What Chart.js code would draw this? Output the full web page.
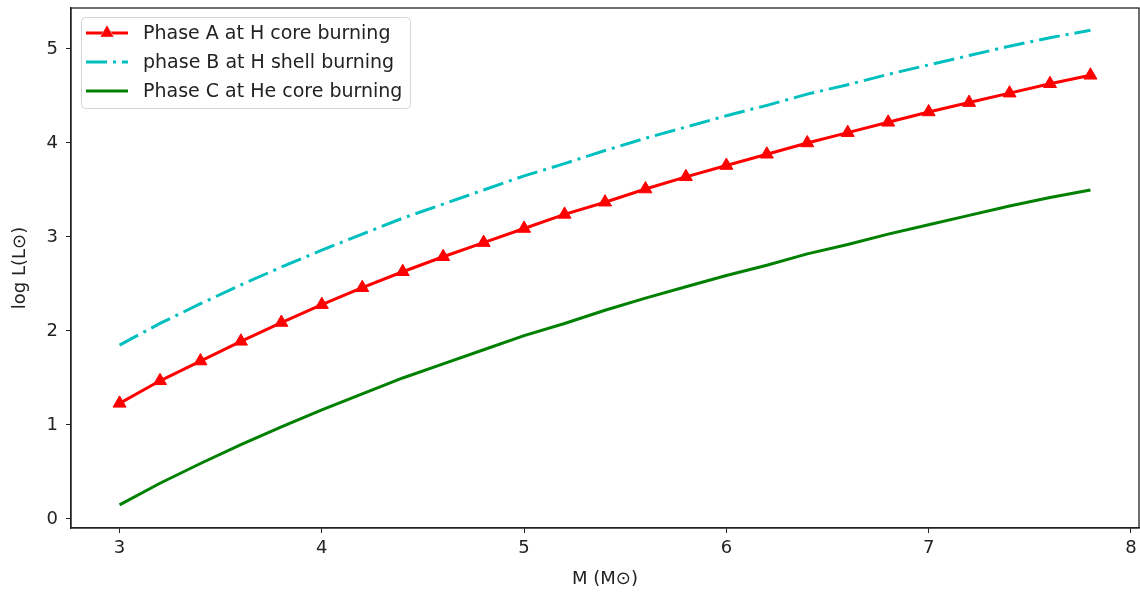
<!DOCTYPE html>
<html>
<head>
<meta charset="utf-8">
<script src="https://cdn.jsdelivr.net/npm/chart.js@4/dist/chart.umd.min.js"></script>
<style>
  body { margin: 0; background: #fff; overflow: hidden; }
  canvas { display: block; }
</style>
</head>
<body>
<canvas id="c" width="1140" height="592"></canvas>
<script>
// stellar mass (solar masses)
const mass = [3.0, 3.2, 3.4, 3.6, 3.8, 4.0, 4.2, 4.4, 4.6, 4.8, 5.0, 5.2, 5.4,
              5.6, 5.8, 6.0, 6.2, 6.4, 6.6, 6.8, 7.0, 7.2, 7.4, 7.6, 7.8];
// log L for each phase
const phaseA = [1.23, 1.47, 1.68, 1.89, 2.09, 2.28, 2.46, 2.63, 2.79, 2.94, 3.09, 3.24, 3.37,
                3.51, 3.64, 3.76, 3.88, 4.00, 4.11, 4.22, 4.33, 4.43, 4.53, 4.63, 4.72];
const phaseB = [1.85, 2.08, 2.29, 2.49, 2.68, 2.86, 3.03, 3.20, 3.35, 3.50, 3.65, 3.78, 3.92,
                4.05, 4.17, 4.29, 4.40, 4.52, 4.62, 4.73, 4.83, 4.93, 5.03, 5.12, 5.20];
const phaseC = [0.15, 0.38, 0.59, 0.79, 0.98, 1.16, 1.33, 1.50, 1.65, 1.80, 1.95, 2.08, 2.22,
                2.35, 2.47, 2.59, 2.70, 2.82, 2.92, 3.03, 3.13, 3.23, 3.33, 3.42, 3.50];
const xTicks = [3, 4, 5, 6, 7, 8];
const yTicks = [0, 1, 2, 3, 4, 5];

const FONT = 'DejaVu Sans';
const pts = ys => mass.map((m, i) => ({ x: m, y: ys[i] }));
const noPad = () => ({ left: 0, right: 0, top: 0, bottom: 0 });

// box around the axes + inside legend, matplotlib style
const framePlugin = {
  id: 'frame',
  afterDatasetsDraw(chart) {
    const { ctx, chartArea: a } = chart;
    ctx.save();
    ctx.strokeStyle = '#222';
    ctx.lineWidth = 1.3;
    ctx.strokeRect(a.left, a.top, a.right - a.left, a.bottom - a.top);

    // legend
    const bx = 81, by = 17, bw = 329, bh = 91;
    ctx.fillStyle = 'rgba(255,255,255,0.8)';
    ctx.strokeStyle = '#d4d4d4';
    ctx.lineWidth = 1;
    ctx.beginPath();
    ctx.roundRect(bx + 0.5, by + 0.5, bw, bh, 4);
    ctx.fill();
    ctx.stroke();

    chart.data.datasets.forEach((ds, i) => {
      const y = 33 + i * 29;
      ctx.save();
      ctx.strokeStyle = ds.borderColor;
      ctx.lineWidth = ds.borderWidth;
      ctx.setLineDash(ds.borderDash || []);
      ctx.beginPath();
      ctx.moveTo(86, y);
      ctx.lineTo(128, y);
      ctx.stroke();
      ctx.restore();
      if (ds.pointRadius > 0) {
        Chart.helpers.drawPoint(ctx, {
          pointStyle: 'triangle', radius: ds.pointRadius, borderWidth: 1
        }, 107, y);
        ctx.fillStyle = ds.pointBackgroundColor;
        ctx.fill();
      }
      ctx.fillStyle = '#222';
      ctx.font = '19px "' + FONT + '"';
      ctx.textBaseline = 'middle';
      ctx.fillText(ds.label, 143, y + 1);
    });
    ctx.restore();
  }
};

new Chart(document.getElementById('c'), {
  type: 'line',
  data: {
    datasets: [
      {
        label: 'Phase A at H core burning',
        data: pts(phaseA),
        borderColor: '#ff0000',
        borderWidth: 3,
        pointStyle: 'triangle',
        pointRadius: 7.5,
        pointBackgroundColor: '#ff0000',
        pointBorderColor: '#ff0000',
        pointBorderWidth: 1
      },
      {
        label: 'phase B at H shell burning',
        data: pts(phaseB),
        borderColor: '#00bfbf',
        borderWidth: 3,
        borderDash: [21, 6, 3, 6],
        pointRadius: 0
      },
      {
        label: 'Phase C at He core burning',
        data: pts(phaseC),
        borderColor: '#008000',
        borderWidth: 3,
        pointRadius: 0
      }
    ]
  },
  options: {
    responsive: false,
    animation: false,
    layout: { autoPadding: false, padding: { left: 0, right: 1, top: 8, bottom: 0 } },
    plugins: { legend: { display: false }, tooltip: { enabled: false } },
    scales: {
      x: {
        type: 'linear',
        min: 2.76,
        max: 8.04,
        afterBuildTicks: s => { s.ticks = xTicks.map(v => ({ value: v })); },
        afterFit: s => { s.height = 64; s.getPadding = noPad; },
        grid: { drawOnChartArea: false, drawTicks: true, tickLength: 5, tickColor: '#222' },
        border: { color: '#222', width: 1.3 },
        ticks: { color: '#222', font: { family: FONT, size: 18 }, padding: 5 },
        title: {
          display: true, text: 'M (M⊙)', color: '#222',
          font: { family: FONT, size: 18 }, padding: { top: 0, bottom: 2 }
        }
      },
      y: {
        min: -0.096,
        max: 5.436,
        afterBuildTicks: s => { s.ticks = yTicks.map(v => ({ value: v })); },
        afterFit: s => { s.width = 71; s.getPadding = noPad; },
        grid: { drawOnChartArea: false, drawTicks: true, tickLength: 5, tickColor: '#222' },
        border: { color: '#222', width: 1.3 },
        ticks: { color: '#222', font: { family: FONT, size: 18 }, padding: 8 },
        title: {
          display: true, text: 'log L(L⊙)', color: '#222',
          font: { family: FONT, size: 18 }, padding: { top: 10, bottom: 0 }
        }
      }
    }
  },
  plugins: [framePlugin]
});
</script>
</body>
</html>
